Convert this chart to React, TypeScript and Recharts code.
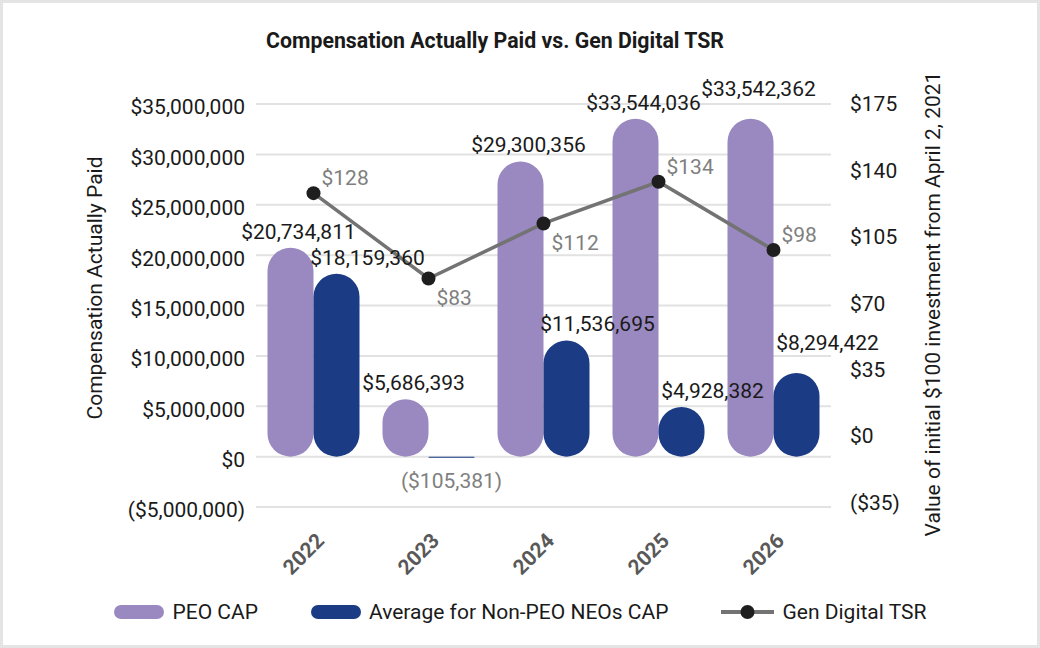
import React from 'react';
import { ComposedChart, Bar, Line, XAxis, YAxis, CartesianGrid, Legend, LabelList } from 'recharts';

const years = ['2022', '2023', '2024', '2025', '2026'];
const peoCap = [20734811, 5686393, 29300356, 33544036, 33542362];
const neoCap = [18159360, -105381, 11536695, 4928382, 8294422];
const tsr = [128, 83, 112, 134, 98];
const leftTicks = [-5000000, 0, 5000000, 10000000, 15000000, 20000000, 25000000, 30000000, 35000000];
const rightTicks = [-35, 0, 35, 70, 105, 140, 175];
const seriesNames = ['PEO CAP', 'Average for Non-PEO NEOs CAP', 'Gen Digital TSR'];
const chartTitle = 'Compensation Actually Paid vs. Gen Digital TSR';
const leftAxisTitle = 'Compensation Actually Paid';
const rightAxisTitle = 'Value of initial $100 investment from April 2, 2021';

const data = years.map((year, i) => ({ year, peo: peoCap[i], neo: neoCap[i], tsr: tsr[i] }));

const FONT = 'Roboto, "Noto Sans", "DejaVu Sans", sans-serif';
const FS = 21;
const PEO_COLOR = '#9A89C0';
const NEO_COLOR = '#1B3C85';
const LINE_COLOR = '#737373';
const DOT_COLOR = '#1E1E1E';
const TEXT = '#1A1A1A';
const GRAY_TEXT = '#7F7F7F';

const fmtMoney = (v: number) => {
  const s = '$' + Math.abs(v).toLocaleString('en-US');
  return v < 0 ? `(${s})` : s;
};

// labels of the last category are lifted a little so they clear the right-axis tick labels
const makeBarLabel = (dx: number) => (props: any) => {
  const { x, y, width, height, value, index } = props;
  const top = Math.min(y, y + height);
  const bottom = Math.max(y, y + height);
  const cx = x + width / 2;
  if (value < 0) {
    return (
      <text x={cx} y={bottom + 23} textAnchor="middle" dominantBaseline="central" fill={GRAY_TEXT} fontSize={FS} fontFamily={FONT}>
        {fmtMoney(value)}
      </text>
    );
  }
  const lift = index === years.length - 1 ? 30 : 16;
  return (
    <text x={cx + dx} y={top - lift} textAnchor="middle" dominantBaseline="central" fill={TEXT} fontSize={FS} fontFamily={FONT}>
      {fmtMoney(value)}
    </text>
  );
};

const TsrLabel = (props: any) => {
  const { x, y, value, index } = props;
  const next = tsr[index + 1];
  const above = next === undefined || next < value;
  return (
    <text x={x + 8} y={above ? y - 15 : y + 20} textAnchor="start" dominantBaseline="central" fill={GRAY_TEXT} fontSize={FS} fontFamily={FONT}>
      {'$' + value}
    </text>
  );
};

const LeftTick = (props: any) => {
  const { x, y, payload } = props;
  return (
    <text x={x} y={y + 3} dy="0.355em" textAnchor="end" fontSize={FS} fill={TEXT} fontFamily={FONT}>
      {fmtMoney(payload.value)}
    </text>
  );
};

const RightTick = (props: any) => {
  const { x, y, payload } = props;
  return (
    <text x={x} y={y} dy="0.355em" textAnchor="start" fontSize={FS} fill={TEXT} fontFamily={FONT}>
      {fmtMoney(payload.value)}
    </text>
  );
};

const XTick = (props: any) => {
  const { x, y, payload } = props;
  const ax = x + 12;
  const ay = y + 35;
  return (
    <text x={ax} y={ay} transform={`rotate(-45 ${ax} ${ay})`} textAnchor="end" fontWeight={700} fontSize={FS} fill="#595959" fontFamily={FONT}>
      {payload.value}
    </text>
  );
};

const LeftTitle = (props: any) => {
  const vb = props.viewBox || { x: 0, y: 104, width: 256, height: 403 };
  const bx = vb.x + 102;
  const cy = vb.y + 184;
  return (
    <text x={bx} y={cy} transform={`rotate(-90 ${bx} ${cy})`} textAnchor="middle" fontSize={FS} fill={TEXT} fontFamily={FONT}>
      {leftAxisTitle}
    </text>
  );
};

const RightTitle = (props: any) => {
  const vb = props.viewBox || { x: 831, y: 104, width: 209, height: 403 };
  const bx = vb.x + 109;
  const cy = vb.y + 200;
  return (
    <text x={bx} y={cy} transform={`rotate(-90 ${bx} ${cy})`} textAnchor="middle" fontSize={FS} fill={TEXT} fontFamily={FONT}>
      {rightAxisTitle}
    </text>
  );
};

const LegendContent = () => (
  <div
    style={{
      display: 'flex',
      justifyContent: 'center',
      alignItems: 'center',
      gap: 53,
      height: 40,
      fontFamily: FONT,
      fontSize: FS,
      color: TEXT,
      whiteSpace: 'nowrap',
    }}
  >
    <div style={{ display: 'flex', alignItems: 'center' }}>
      <span style={{ display: 'inline-block', width: 50, height: 14, borderRadius: 7, background: PEO_COLOR, marginRight: 9 }} />
      {seriesNames[0]}
    </div>
    <div style={{ display: 'flex', alignItems: 'center' }}>
      <span style={{ display: 'inline-block', width: 50, height: 14, borderRadius: 7, background: NEO_COLOR, marginRight: 8 }} />
      {seriesNames[1]}
    </div>
    <div style={{ display: 'flex', alignItems: 'center' }}>
      <svg width={53} height={16} style={{ marginRight: 8 }}>
        <line x1={0} y1={8} x2={53} y2={8} stroke={LINE_COLOR} strokeWidth={4} />
        <circle cx={26.5} cy={8} r={7} fill={DOT_COLOR} />
      </svg>
      {seriesNames[2]}
    </div>
  </div>
);

export default function App() {
  return (
    <div style={{ position: 'absolute', left: 0, top: 0, width: 1040, height: 648, background: '#fff', overflow: 'hidden' }}>
      <ComposedChart
        width={1040}
        height={648}
        data={data}
        margin={{ top: 104, right: 0, bottom: 16, left: 0 }}
        barCategoryGap="10%"
        barGap={0}
      >
        <CartesianGrid yAxisId="left" vertical={false} stroke="#E2E2E2" strokeWidth={2} />
        <XAxis dataKey="year" height={85} tickLine={false} axisLine={false} tickSize={0} tickMargin={0} tick={<XTick />} interval={0} />
        <YAxis
          yAxisId="left"
          orientation="left"
          width={256}
          domain={[-5000000, 35000000]}
          ticks={leftTicks}
          tickLine={false}
          axisLine={false}
          tickSize={0}
          tickMargin={11}
          tick={<LeftTick />}
          interval={0}
          label={(p: any) => <LeftTitle {...p} />}
        />
        <YAxis
          yAxisId="right"
          orientation="right"
          width={209}
          domain={[-37.5, 175]}
          ticks={rightTicks}
          tickLine={false}
          axisLine={false}
          tickSize={0}
          tickMargin={19}
          tick={<RightTick />}
          interval={0}
          label={(p: any) => <RightTitle {...p} />}
        />
        <Legend verticalAlign="bottom" height={40} content={<LegendContent />} />
        <Bar yAxisId="left" dataKey="peo" name={seriesNames[0]} fill={PEO_COLOR} radius={[23, 23, 23, 23]} isAnimationActive={false}>
          <LabelList dataKey="peo" content={makeBarLabel(8)} />
        </Bar>
        <Bar yAxisId="left" dataKey="neo" name={seriesNames[1]} fill={NEO_COLOR} radius={[23, 23, 23, 23]} isAnimationActive={false}>
          <LabelList dataKey="neo" content={makeBarLabel(31)} />
        </Bar>
        <Line
          yAxisId="right"
          type="linear"
          dataKey="tsr"
          name={seriesNames[2]}
          stroke={LINE_COLOR}
          strokeWidth={3.5}
          dot={{ r: 7, fill: DOT_COLOR, stroke: DOT_COLOR, strokeWidth: 0 }}
          activeDot={false}
          isAnimationActive={false}
        >
          <LabelList dataKey="tsr" content={TsrLabel} />
        </Line>
      </ComposedChart>
      <svg width={1040} height={70} style={{ position: 'absolute', left: 0, top: 0, pointerEvents: 'none' }}>
        <text x={495} y={48} textAnchor="middle" fontWeight={700} fontSize={21.3} fill={TEXT} fontFamily={FONT}>
          {chartTitle}
        </text>
      </svg>
      <div
        style={{
          position: 'absolute',
          left: 0,
          top: 0,
          width: 1040,
          height: 648,
          boxSizing: 'border-box',
          border: '3px solid #E4E4E4',
          pointerEvents: 'none',
        }}
      />
    </div>
  );
}
